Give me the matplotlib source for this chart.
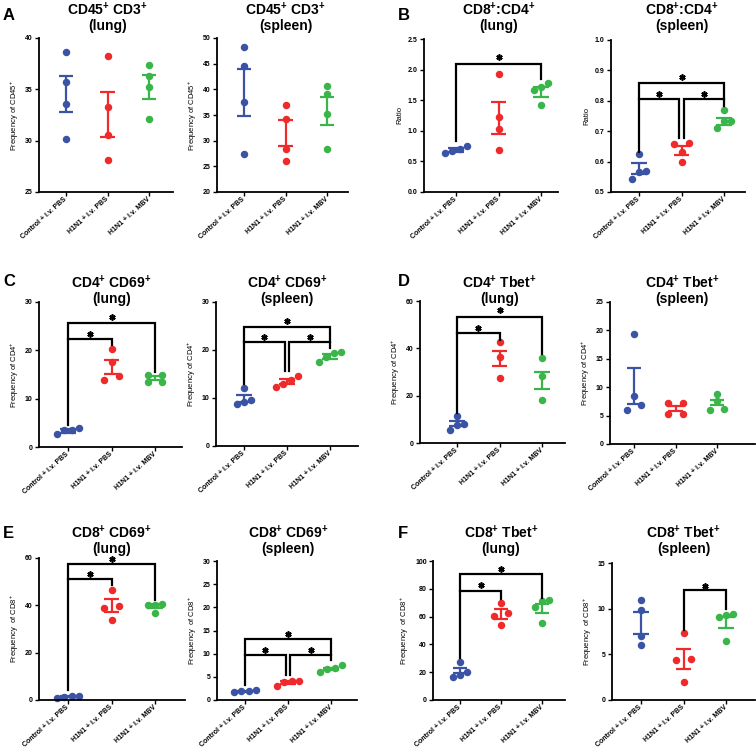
import matplotlib.pyplot as plt
import numpy as np

plt.rcParams["font.family"] = ["Liberation Sans", "DejaVu Sans"]
plt.rcParams["mathtext.fontset"] = "custom"
plt.rcParams["mathtext.rm"] = "Liberation Sans"
plt.rcParams["mathtext.bf"] = "Liberation Sans:bold"
plt.rcParams["mathtext.default"] = "regular"

GROUPS = ["Control + i.v. PBS", "H1N1 + i.v. PBS", "H1N1 + i.v. MBV"]
COLORS = ["#3A53A4", "#EE2A2A", "#3AB54A"]

# ---- data: points per group, SEM bar (low, high) per group ----
a_lung_pts = [[38.6, 35.7, 33.6, 30.2], [38.2, 33.3, 30.6, 28.1], [37.4, 36.3, 35.2, 32.1]]
a_lung_bars = [(32.8, 36.3), (30.4, 34.7), (34.1, 36.4)]
a_spleen_pts = [[48.3, 44.5, 37.6, 27.4], [36.9, 34.3, 28.3, 26.0], [40.6, 39.1, 35.2, 28.4]]
a_spleen_bars = [(34.9, 44.0), (29.0, 34.0), (33.1, 38.6)]

b_lung_pts = [[0.745, 0.636, 0.707, 0.674], [1.92, 1.22, 1.03, 0.685], [1.78, 1.72, 1.66, 1.42]]
b_lung_bars = [(0.66, 0.72), (0.95, 1.47), (1.56, 1.71)]
b_spleen_pts = [[0.625, 0.570, 0.565, 0.542], [0.661, 0.659, 0.633, 0.600], [0.770, 0.733, 0.733, 0.710]]
b_spleen_bars = [(0.560, 0.595), (0.623, 0.650), (0.721, 0.743)]

c_lung_pts = [[3.9, 3.6, 3.5, 2.6], [20.3, 17.6, 14.7, 13.9], [15.0, 15.0, 13.4, 13.4]]
c_lung_bars = [(2.9, 3.8), (15.2, 18.1), (13.8, 14.7)]
c_spleen_pts = [[12.1, 9.55, 9.1, 8.85], [14.65, 13.7, 13.0, 12.2], [19.5, 19.3, 18.5, 17.6]]
c_spleen_bars = [(9.2, 10.7), (12.9, 14.0), (18.2, 19.1)]

d_lung_pts = [[11.3, 7.9, 7.8, 5.6], [42.5, 36.4, 27.3], [36.0, 28.2, 18.1]]
d_lung_bars = [(7.2, 9.5), (32.5, 39.0), (22.7, 30.1)]
d_spleen_pts = [[19.4, 8.4, 6.8, 5.9], [7.2, 7.2, 5.3, 5.3], [8.8, 7.5, 6.1, 6.0]]
d_spleen_bars = [(7.1, 13.4), (5.8, 6.75), (6.8, 7.7)]

e_lung_pts = [[1.0, 1.8, 1.3, 1.5], [46.3, 39.7, 38.9, 34.0], [40.5, 40.3, 40.0, 36.9]]
e_lung_bars = [(1.2, 1.6), (37.2, 42.6), (38.9, 40.6)]
e_spleen_pts = [[1.8, 2.1, 1.9, 2.0], [4.2, 4.1, 3.8, 3.1], [7.6, 6.9, 6.7, 6.0]]
e_spleen_bars = [(1.8, 2.0), (3.5, 4.1), (6.4, 7.0)]

f_lung_pts = [[27.0, 20.5, 18.2, 16.8], [69.7, 62.8, 60.4, 53.8], [72.3, 70.9, 66.6, 55.7]]
f_lung_bars = [(19.4, 23.0), (58.5, 65.2), (62.3, 69.2)]
f_spleen_pts = [[10.9, 9.9, 7.0, 6.0], [7.35, 4.47, 4.33, 1.95], [9.45, 9.27, 9.12, 6.49]]
f_spleen_bars = [(7.2, 9.6), (3.43, 5.63), (7.86, 9.12)]

# significance brackets: (x0, x1, bar_y, leg0_bottom, leg1_bottom, star_y)
b_lung_sig = [(0, 2, 2.09, 0.83, 1.85, 2.2)]
b_spleen_sig = [(0, 0.95, 0.805, 0.633, 0.677, 0.822), (1.05, 2, 0.805, 0.677, 0.783, 0.822),
                (0, 2, 0.858, 0.805, 0.805, 0.878)]
c_lung_sig = [(0, 1, 22.4, 4.6, 21.2, 23.4), (0, 2, 25.7, 22.4, 15.6, 26.9)]
c_spleen_sig = [(0, 0.95, 21.6, 12.9, 15.6, 22.7), (1.05, 2, 21.6, 15.6, 20.5, 22.7),
                (0, 2, 24.8, 21.6, 21.6, 26.1)]
d_lung_sig = [(0, 1, 46.3, 12.7, 43.5, 48.7), (0, 2, 53.1, 46.3, 37.8, 56.2)]
e_lung_sig = [(0, 1, 51.0, 4.2, 48.5, 53.2), (0, 2, 57.6, 51.0, 42.1, 59.7)]
e_spleen_sig = [(0, 0.95, 9.8, 3.3, 5.3, 10.8), (1.05, 2, 9.8, 5.3, 8.7, 10.8),
                (0, 2, 13.2, 9.8, 9.8, 14.2)]
f_lung_sig = [(0, 1, 78.7, 30.1, 72.7, 82.5), (0, 2, 90.5, 78.7, 73.5, 94.3)]
f_spleen_sig = [(1, 2, 12.0, 7.7, 10.0, 12.5)]

FIG_W, FIG_H = 756, 747
DOT = 7.2  # dot diameter, px


def swarm_offsets(values, px_per_unit):
    values = np.asarray(values, dtype=float)
    order = np.argsort(values)
    offs = np.zeros(len(values))
    rows, cur = [], [order[0]]
    for a, b in zip(order[:-1], order[1:]):
        if (values[b] - values[a]) * px_per_unit < DOT:
            cur.append(b)
        else:
            rows.append(cur)
            cur = [b]
    rows.append(cur)
    for row in rows:
        n = len(row)
        pos = [-1.0, 1.0] if n == 2 else [k - (n - 1) / 2 for k in range(n)]
        for idx, p in zip(row, pos):
            offs[idx] = p * DOT
    return offs


def draw_panel(fig, box, ylabel, ylim, yticks, fmt, pts, bars, sig):
    spine_x, cat0_x, sp, right_x, top_y, bot_y = box
    ax = fig.add_axes([spine_x / FIG_W, 1 - bot_y / FIG_H,
                       (right_x - spine_x) / FIG_W, (bot_y - top_y) / FIG_H])
    x_lo = -(cat0_x - spine_x) / sp
    x_hi = x_lo + (right_x - spine_x) / sp
    ax.set_xlim(x_lo, x_hi)
    ax.set_ylim(*ylim)
    px_per_unit = (bot_y - top_y) / (ylim[1] - ylim[0])

    for i, (vals, (lo, hi)) in enumerate(zip(pts, bars)):
        offs = swarm_offsets(vals, px_per_unit) / sp
        ax.scatter(i + offs, vals, s=29, color=COLORS[i], linewidths=0, zorder=2, clip_on=False)
        ax.vlines(i, lo, hi, color=COLORS[i], lw=1.6, zorder=3)
        ax.hlines([lo, hi], i - 0.18, i + 0.18, color=COLORS[i], lw=1.6, zorder=3)

    for x0, x1, yb, l0, l1, ys in sig:
        ax.plot([x0, x0, x1, x1], [l0, yb, yb, l1], color="black", lw=1.6,
                solid_joinstyle="miter", zorder=4, clip_on=False)
        ax.plot((x0 + x1) / 2, ys, marker=(6, 2, 0), ms=4.5, mew=1.2,
                color="black", zorder=4, clip_on=False)

    ax.set_yticks(yticks)
    ax.set_yticklabels([fmt.format(t) for t in yticks], fontsize=5, fontweight="bold")
    ax.set_xticks(range(3))
    ax.set_xticklabels(GROUPS, rotation=42, ha="right", va="center", rotation_mode="anchor",
                       fontsize=5, fontweight="bold")
    ax.tick_params(axis="both", length=3, width=1, pad=1.5)
    for side in ("top", "right"):
        ax.spines[side].set_visible(False)
    for side in ("left", "bottom"):
        ax.spines[side].set_linewidth(1.3)
    ax.set_ylabel(ylabel, fontsize=5.5, labelpad=3)
    ax.patch.set_alpha(0)
    return cat0_x + sp


fig = plt.figure(figsize=(FIG_W / 100, FIG_H / 100), dpi=100)

SUP = r"$^{\mathbf{+}}$"
sup = r"$^{+}$"

# layout box: (spine x, first category x, category spacing, axis end x, top y, bottom y) in px
panels = [
    ((39, 66, 41.5, 173, 38, 192), f"CD45{SUP} CD3{SUP}\n(lung)", f"Frequency of CD45{sup}",
     (25, 40), [25, 30, 35, 40], "{:g}", a_lung_pts, a_lung_bars, [], 17, None),
    ((217, 244, 41.5, 348, 38, 192), f"CD45{SUP} CD3{SUP}\n(spleen)", f"Frequency of CD45{sup}",
     (20, 50), [20, 25, 30, 35, 40, 45, 50], "{:g}", a_spleen_pts, a_spleen_bars, [], 17, None),
    ((424, 456, 42.5, 558, 39, 192), f"CD8{SUP}:CD4{SUP}\n(lung)", "Ratio",
     (0, 2.5), [0, 0.5, 1.0, 1.5, 2.0, 2.5], "{:.1f}", b_lung_pts, b_lung_bars, b_lung_sig, 17, None),
    ((611, 639, 42.5, 745, 40, 192), f"CD8{SUP}:CD4{SUP}\n(spleen)", "Ratio",
     (0.5, 1.0), [0.5, 0.6, 0.7, 0.8, 0.9, 1.0], "{:.1f}", b_spleen_pts, b_spleen_bars,
     b_spleen_sig, 17, None),
    ((39, 68, 43.5, 182, 302, 447), f"CD4{SUP} CD69{SUP}\n(lung)", f"Frequency of CD4{sup}",
     (0, 30), [0, 10, 20, 30], "{:g}", c_lung_pts, c_lung_bars, c_lung_sig, 290, None),
    ((216, 244, 43, 358, 302, 446), f"CD4{SUP} CD69{SUP}\n(spleen)", f"Frequency of CD4{sup}",
     (0, 30), [0, 10, 20, 30], "{:g}", c_spleen_pts, c_spleen_bars, c_spleen_sig, 290, None),
    ((420, 457, 42.5, 565, 301, 443), f"CD4{SUP} Tbet{SUP}\n(lung)", f"Frequency of CD4{sup}",
     (0, 60), [0, 20, 40, 60], "{:g}", d_lung_pts, d_lung_bars, d_lung_sig, 290, None),
    ((610, 634, 41.5, 755, 302, 444), f"CD4{SUP} Tbet{SUP}\n(spleen)", f"Frequency of CD4{sup}",
     (0, 25), [0, 5, 10, 15, 20, 25], "{:g}", d_spleen_pts, d_spleen_bars, [], 290, 682),
    ((39, 68, 43.5, 185, 558, 700), f"CD8{SUP} CD69{SUP}\n(lung)", f"Frequency  of CD8{sup}",
     (0, 60), [0, 20, 40, 60], "{:g}", e_lung_pts, e_lung_bars, e_lung_sig, 540, None),
    ((217, 245, 43, 357, 561, 700), f"CD8{SUP} CD69{SUP}\n(spleen)", f"Frequency  of CD8{sup}",
     (0, 30), [0, 5, 10, 15, 20, 25, 30], "{:g}", e_spleen_pts, e_spleen_bars, e_spleen_sig, 540, None),
    ((433, 460, 41, 565, 561, 700), f"CD8{SUP} Tbet{SUP}\n(lung)", f"Frequency  of CD8{sup}",
     (0, 100), [0, 20, 40, 60, 80, 100], "{:g}", f_lung_pts, f_lung_bars, f_lung_sig, 540, None),
    ((612, 641, 42.5, 755, 563, 700), f"CD8{SUP} Tbet{SUP}\n(spleen)", f"Frequency  of CD8{sup}",
     (0, 15), [0, 5, 10, 15], "{:g}", f_spleen_pts, f_spleen_bars, f_spleen_sig, 540, None),
]

for box, title, ylabel, ylim, yticks, fmt, pts, bars, sig, title_y, title_x in panels:
    mid_x = draw_panel(fig, box, ylabel, ylim, yticks, fmt, pts, bars, sig)
    tx = mid_x if title_x is None else title_x
    fig.text(tx / FIG_W, 1 - title_y / FIG_H, title, ha="center", va="center",
             fontsize=10, fontweight="bold", linespacing=1.05)

letters = [("A", 3, 16), ("B", 398, 16), ("C", 3, 282), ("D", 398, 282), ("E", 3, 533), ("F", 398, 533)]
for letter, lx, ly in letters:
    fig.text(lx / FIG_W, 1 - ly / FIG_H, letter, ha="left", va="center",
             fontsize=12, fontweight="bold")

fig.savefig("out.png", dpi=100)
